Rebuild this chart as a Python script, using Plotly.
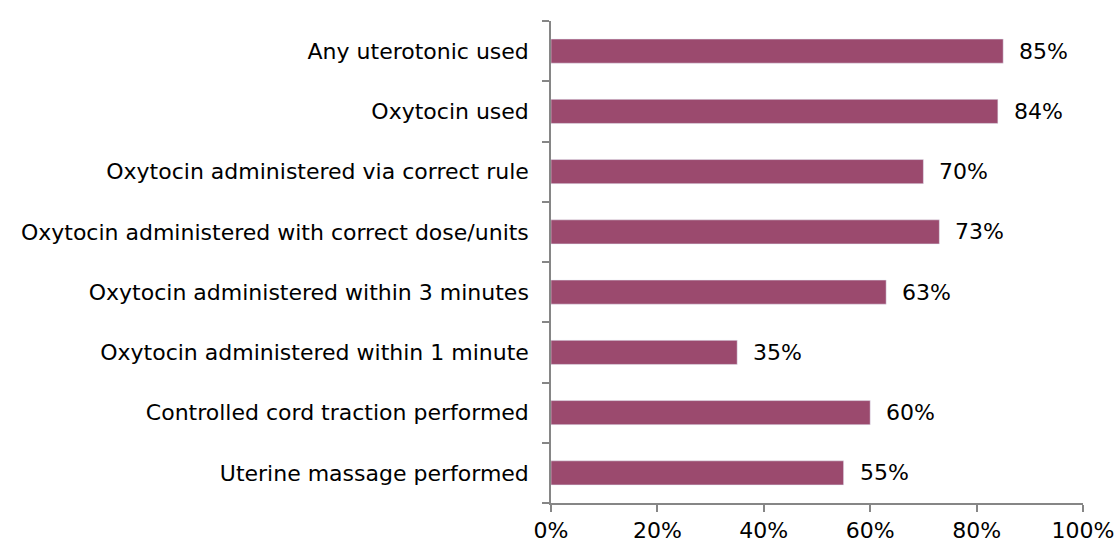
import plotly.graph_objects as go

categories = [
    "Any uterotonic used",
    "Oxytocin used",
    "Oxytocin administered via correct rule",
    "Oxytocin administered with correct dose/units",
    "Oxytocin administered within 3 minutes",
    "Oxytocin administered within 1 minute",
    "Controlled cord traction performed",
    "Uterine massage performed",
]
values = [85, 84, 70, 73, 63, 35, 60, 55]
x_ticks = [0, 20, 40, 60, 80, 100]
x_tick_labels = ["0%", "20%", "40%", "60%", "80%", "100%"]

FONT = "DejaVu Sans"
FS = 22
fig = go.Figure()
fig.add_trace(go.Bar(
    y=categories, x=values, orientation="h",
    marker=dict(color="#9B4A6E"),
    hoverinfo="x+y",
))
for c, v in zip(categories, values):
    fig.add_annotation(x=v, y=c, text=f"{v}%", showarrow=False,
                       xanchor="left", xshift=14,
                       font=dict(family=FONT, size=FS, color="#000000"))

fig.update_layout(
    width=1119, height=545,
    margin=dict(l=551, r=36, t=21, b=42, autoexpand=False),
    plot_bgcolor="white", paper_bgcolor="white",
    bargap=0.6, showlegend=False,
    font=dict(family=FONT, size=FS, color="#000000"),
)
fig.update_xaxes(range=[0, 100], tickvals=x_ticks, ticktext=x_tick_labels,
                 showgrid=False, zeroline=False, showline=True, automargin=False,
                 linecolor="#868686", linewidth=1.5, ticks="outside",
                 ticklen=7, tickcolor="#868686", tickwidth=1.5,
                 tickfont=dict(family=FONT, size=FS, color="#000000"))
fig.update_yaxes(categoryorder="array", categoryarray=categories[::-1],
                 showgrid=False, showline=True, linecolor="#868686", linewidth=1.5,
                 automargin=False, ticklabelstandoff=16,
                 ticks="outside", tickson="boundaries", ticklen=7,
                 tickcolor="#868686", tickwidth=1.5,
                 tickfont=dict(family=FONT, size=FS, color="#000000"))

fig.write_html("out.html", config={"displayModeBar": False},
               post_script="document.body.style.margin='0';document.body.style.padding='0';")
